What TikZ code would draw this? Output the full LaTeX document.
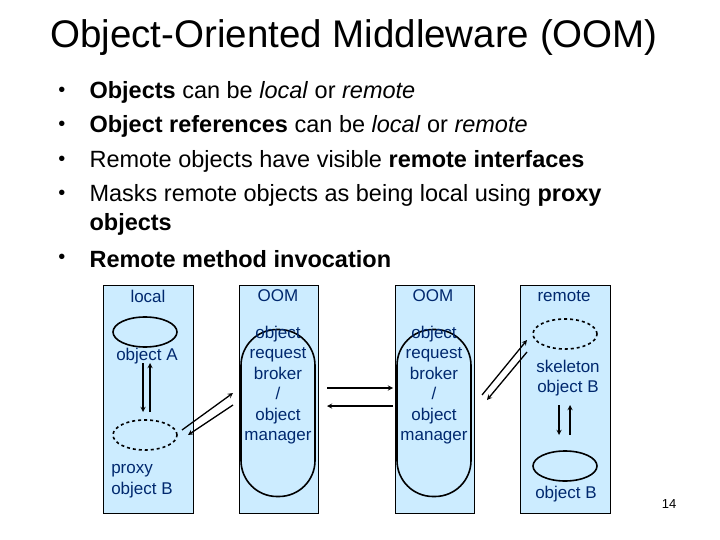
\documentclass[tikz,border=0pt]{standalone}
\usepackage{fontspec}
\setmainfont{Liberation Sans}
\usepackage{tikz}
\usetikzlibrary{shapes.geometric}
\definecolor{boxblue}{RGB}{204,236,255}
\definecolor{txtblue}{RGB}{0,40,110}
\begin{document}
\begin{tikzpicture}[x=1pt,y=-1pt,
    col_box/.style={draw,fill=boxblue,thick,anchor=north west,inner sep=0pt},
    obj_node/.style={ellipse,draw,line width=1.6pt,minimum width=64pt,minimum height=30pt},
    orb_node/.style={rectangle,rounded corners=36pt,draw,line width=1.6pt,minimum width=74pt,minimum height=167pt},
    lab/.style={text=txtblue,font=\fontsize{17}{20.5}\selectfont,align=center},
    item/.style={anchor=west,font=\fontsize{23.5}{28}\selectfont}]

    \useasboundingbox (0,0) rectangle (720,540);
    \node[font=\fontsize{38.5}{44}\selectfont] (title) at (354,38) {Object-Oriented Middleware (OOM)};

    % bullet list
    \node[item] (b1) at (86,92) {\textbf{Objects} can be \textit{local} or \textit{remote}};
    \node[item] (b2) at (86,126) {\textbf{Object references} can be \textit{local} or \textit{remote}};
    \node[item] (b3) at (86,161) {Remote objects have visible \textbf{remote interfaces}};
    \node[item] (b4) at (86,195) {Masks remote objects as being local using \textbf{proxy}};
    \node[item] (b4b) at (86,224) {\textbf{objects}};
    \node[item] (b5) at (86,259) {\textbf{Remote method invocation}};
    \foreach \y in {92,126,161,195,259}
        \node[font=\fontsize{20}{24}\selectfont] at (62,\y) {\textbullet};

    % columns
    \node[col_box,minimum width=90pt,minimum height=228pt] (loc) at (103,285) {};
    \node[col_box,minimum width=79pt,minimum height=228pt] (oom1) at (239,285) {};
    \node[col_box,minimum width=79pt,minimum height=228pt] (oom2) at (395,285) {};
    \node[col_box,minimum width=90pt,minimum height=228pt] (rem) at (520,285) {};

    \node[lab] at (148,296) {local};
    \node[lab] at (278,296) {OOM};
    \node[lab] at (433,296) {OOM};
    \node[lab] at (564,296) {remote};

    \node[obj_node] (objA) at (145,332) {};
    \node[lab] at (147,356) {object A};
    \node[obj_node,dashed] (proxy) at (145,435) {};
    \node[lab,align=left] at (142,481) {proxy\\object B};
    \node[orb_node] (orb1) at (278,413) {};
    \node[lab] at (278,385) {object\\request\\broker\\/\\object\\manager};
    \node[orb_node] (orb2) at (434,413) {};
    \node[lab] at (434,385) {object\\request\\broker\\/\\object\\manager};
    \node[obj_node,dashed] (skel) at (565,334) {};
    \node[lab] at (568,378) {skeleton\\object B};
    \node[obj_node] (objB) at (565,466) {};
    \node[lab] at (566,494) {object B};

    \node (num) at (669,504) {\fontsize{13}{15}\selectfont 14};

    \coordinate (p1) at (182,430); \coordinate (q1) at (233,393);
    \coordinate (p2) at (233,405); \coordinate (q2) at (188,435);
    \coordinate (p3) at (482,395); \coordinate (q3) at (527,340);
    \coordinate (p4) at (527,352); \coordinate (q4) at (487,400);
    \begin{scope}[every path/.style={->,>=stealth,line width=1.3pt}]
    \draw (143,363) -- (143,412);
    \draw (150,412) -- (150,363);
    \draw (p1) -- (q1);
    \draw (p2) -- (q2);
    \draw (327,388) -- (393,388);
    \draw (393,406) -- (327,406);
    \draw (p3) -- (q3);
    \draw (p4) -- (q4);
    \draw (559,405) -- (559,435);
    \draw (570,435) -- (570,405);
    \end{scope}
\end{tikzpicture}
\end{document}
